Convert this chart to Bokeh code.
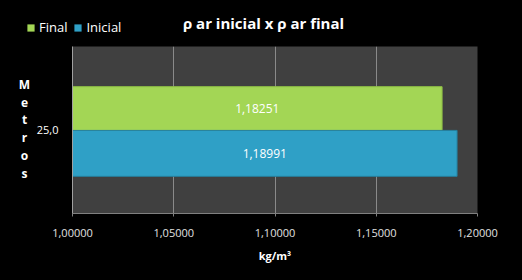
from bokeh.plotting import figure
from bokeh.layouts import column, row
from bokeh.core.properties import value
from bokeh.models import (FactorRange, Range1d, ColumnDataSource, LabelSet, Label,
                          Legend, LegendItem, CustomJSTickFormatter, FixedTicker)
from bokeh.transform import dodge
from bokeh.embed import file_html
from bokeh.resources import INLINE

categories = ["25,0"]
final_vals = [1.18251]
inicial_vals = [1.18991]
x_ticks = [1.00, 1.05, 1.10, 1.15, 1.20]
series_names = ["Final", "Inicial"]
title_text = "ρ ar inicial x ρ ar final"
x_label = "kg/m³"
y_label = "Metros"

FONT = "Open Sans"
GREEN = "#a3d655"
BLUE = "#2fa0c6"
W, H = 522, 280
TOP_H, LEFT_W = 46, 30
MAIN_H = H - TOP_H


def blank_fig(w, h):
    f = figure(width=w, height=h, output_backend="svg", toolbar_location=None,
               x_range=Range1d(0, w), y_range=Range1d(0, h),
               min_border=0, min_border_left=0, min_border_right=0,
               min_border_top=0, min_border_bottom=0)
    f.axis.visible = False
    f.grid.grid_line_color = None
    f.background_fill_color = "black"
    f.border_fill_color = "black"
    f.outline_line_color = None
    return f


# ---- top strip: legend + title
top = blank_fig(W, TOP_H)
top.add_layout(Label(x=263, y=TOP_H - 22, text=title_text, text_color="white",
                     text_font=FONT, text_font_style="bold", text_font_size="15px",
                     text_align="center", text_baseline="middle"))
# zero-size swatch renderers, used only for the legend glyphs
lg_f = top.hbar(y=[0], left=[0], right=[0], height=0, fill_color=GREEN, line_color=None)
lg_i = top.hbar(y=[0], left=[0], right=[0], height=0, fill_color=BLUE, line_color=None)
legend = Legend(items=[LegendItem(label=series_names[0], renderers=[lg_f]),
                       LegendItem(label=series_names[1], renderers=[lg_i])],
                orientation="horizontal", location=(26, 10),
                background_fill_alpha=0, border_line_color=None,
                label_text_color="white", label_text_font=FONT, label_text_font_size="13px",
                glyph_width=9, glyph_height=9, label_standoff=4, spacing=6, padding=2,
                margin=0)
top.add_layout(legend, "center")

# ---- left strip: stacked axis title
left = blank_fig(LEFT_W, MAIN_H)
left.add_layout(Label(x=24, y=MAIN_H - 41, text="\n".join(y_label), text_color="white",
                      text_font=FONT, text_font_style="bold", text_font_size="12px",
                      text_align="center", text_baseline="top", text_line_height=1.05))

# ---- main chart
p = figure(width=W - LEFT_W, height=MAIN_H, output_backend="svg", toolbar_location=None,
           y_range=FactorRange(*categories), x_range=Range1d(1.0, 1.2),
           min_border_left=72 - LEFT_W, min_border_right=45, min_border_top=0,
           min_border_bottom=67)
p.background_fill_color = "#404040"
p.border_fill_color = "black"
p.outline_line_color = None

src_f = ColumnDataSource(dict(cat=categories, left=[1.0] * len(categories), right=final_vals,
                              mid=[(1.0 + v) / 2 for v in final_vals],
                              lab=[f"{v:.5f}".replace(".", ",") for v in final_vals]))
src_i = ColumnDataSource(dict(cat=categories, left=[1.0] * len(categories), right=inicial_vals,
                              mid=[(1.0 + v) / 2 for v in inicial_vals],
                              lab=[f"{v:.5f}".replace(".", ",") for v in inicial_vals]))

p.hbar(y=dodge("cat", 0.128, range=p.y_range), left="left", right="right", height=0.263,
       source=src_f, fill_color=GREEN, line_color="#8fbf45", line_width=1)
p.hbar(y=dodge("cat", -0.14, range=p.y_range), left="left", right="right", height=0.275,
       source=src_i, fill_color=BLUE, line_color="#25809f", line_width=1)

for src, off in ((src_f, 0.128), (src_i, -0.14)):
    p.add_layout(LabelSet(x="mid", y=dodge("cat", off, range=p.y_range), text="lab", source=src,
                          text_color="white", text_font=value(FONT), text_font_size="12px",
                          text_align="center", text_baseline="middle"))

p.xaxis.ticker = FixedTicker(ticks=x_ticks)
p.xaxis.formatter = CustomJSTickFormatter(code="return tick.toFixed(5).replace('.', ',');")
p.xaxis.axis_label = x_label
p.xaxis.axis_label_text_font = FONT
p.xaxis.axis_label_text_font_style = "bold"
p.xaxis.axis_label_text_font_size = "11px"
p.xaxis.axis_label_text_color = "white"
p.xaxis.axis_label_standoff = 8
p.xaxis.major_label_text_font = FONT
p.xaxis.major_label_text_font_size = "11px"
p.xaxis.major_label_text_color = "#e0e0e0"
p.xaxis.major_label_standoff = 12
p.xaxis.axis_line_color = "#808080"
p.xaxis.major_tick_line_color = "#808080"
p.xaxis.major_tick_out = 3
p.xaxis.major_tick_in = 0
p.xaxis.minor_tick_line_color = None

p.yaxis.major_label_text_font = FONT
p.yaxis.major_label_text_font_size = "11px"
p.yaxis.major_label_text_color = "white"
p.yaxis.major_label_standoff = 8
p.yaxis.axis_line_color = "#a0a0a0"
p.yaxis.major_tick_line_color = None
p.yaxis.minor_tick_line_color = None

p.xgrid.grid_line_color = "#8a8a8a"
p.ygrid.grid_line_color = None

layout = column(top, row(left, p, spacing=0), spacing=0, styles={"background": "black"})

open("out.html", "w").write(file_html(layout, INLINE))
